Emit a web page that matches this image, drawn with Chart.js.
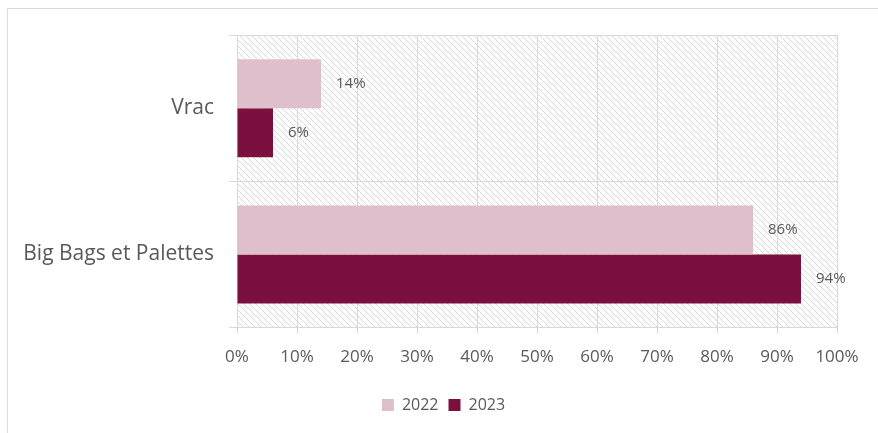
<!DOCTYPE html>
<html>
<head>
<meta charset="utf-8">
<script src="https://cdn.jsdelivr.net/npm/chart.js@4"></script>
<style>
  html, body { margin: 0; padding: 0; background: #fff; }
  #frame {
    position: absolute; left: 7px; top: 8px; width: 900px; height: 460px;
    border-left: 1px solid #d9d9d9; border-top: 1px solid #d9d9d9;
  }
  #chart-container { position: absolute; left: 0; top: 0; width: 878px; height: 433px; }
</style>
</head>
<body>
<div id="frame"></div>
<div id="chart-container"><canvas id="chart" width="878" height="433"></canvas></div>
<script>
const categories = ["Vrac", "Big Bags et Palettes"];
const values2022 = [14, 86];
const values2023 = [6, 94];
const seriesLabels = ["2022", "2023"];
const tickStep = 10;

const textColor = "#595959";
const gridColor = "#d9d9d9";
const fontFamily = "'Open Sans', 'Noto Sans', sans-serif";

// diagonal hatch behind the plot
function makeHatch() {
  const c = document.createElement("canvas");
  c.width = 6;
  c.height = 6;
  const g = c.getContext("2d");
  g.strokeStyle = "#d9d9d9";
  g.lineWidth = 1;
  g.beginPath();
  g.moveTo(-1, -1); g.lineTo(7, 7);
  g.moveTo(-4, 2); g.lineTo(4, 10);
  g.moveTo(2, -4); g.lineTo(10, 4);
  g.stroke();
  return g.createPattern(c, "repeat");
}

const hatchBackground = {
  id: "hatchBackground",
  beforeDraw(chart) {
    const { ctx, chartArea } = chart;
    ctx.save();
    ctx.fillStyle = makeHatch();
    ctx.fillRect(chartArea.left, chartArea.top, chartArea.right - chartArea.left, chartArea.bottom - chartArea.top);
    ctx.restore();
  },
};

// nudge the legend a little right and down
const legendShift = {
  id: "legendShift",
  afterLayout(chart) {
    const lg = chart.legend;
    lg.left += 20;
    lg.right += 20;
    lg.top += 7;
    lg.bottom += 7;
  },
};

// value labels to the right of each bar
const barLabels = {
  id: "barLabels",
  afterDatasetsDraw(chart) {
    const { ctx } = chart;
    ctx.save();
    ctx.font = "15px " + fontFamily;
    ctx.fillStyle = textColor;
    ctx.textBaseline = "middle";
    ctx.textAlign = "left";
    chart.data.datasets.forEach((ds, i) => {
      chart.getDatasetMeta(i).data.forEach((bar, j) => {
        ctx.fillText(ds.data[j] + "%", bar.x + 15, bar.y);
      });
    });
    ctx.restore();
  },
};

const ctx = document.getElementById("chart").getContext("2d");

new Chart(ctx, {
  type: "bar",
  data: {
    labels: categories,
    datasets: [
      {
        label: seriesLabels[0],
        data: values2022,
        backgroundColor: "#dfbfcc",
        categoryPercentage: 0.67,
        barPercentage: 1.0,
      },
      {
        label: seriesLabels[1],
        data: values2023,
        backgroundColor: "#7b0f3e",
        categoryPercentage: 0.67,
        barPercentage: 1.0,
      },
    ],
  },
  options: {
    indexAxis: "y",
    responsive: false,
    animation: false,
    devicePixelRatio: 1,
    layout: { padding: { left: 10, top: 35, right: 41, bottom: 17 } },
    scales: {
      x: {
        min: 0,
        max: 100,
        grid: { color: gridColor, tickLength: 6, tickColor: gridColor },
        border: { display: false },
        ticks: {
          stepSize: tickStep,
          maxRotation: 0,
          color: textColor,
          padding: 13,
          font: { family: fontFamily, size: 17 },
          callback: (v) => v + "%",
        },
      },
      y: {
        afterFit(scale) {
          scale.width = 227;
        },
        grid: { color: gridColor, tickLength: 8, tickColor: gridColor },
        border: { color: gridColor },
        ticks: {
          color: textColor,
          padding: 15,
          font: { family: fontFamily, size: 21 },
        },
      },
    },
    plugins: {
      legend: {
        position: "bottom",
        labels: {
          color: textColor,
          boxWidth: 12,
          boxHeight: 12,
          padding: 10,
          font: { family: fontFamily, size: 16 },
        },
      },
      tooltip: { enabled: false },
    },
  },
  plugins: [hatchBackground, legendShift, barLabels],
});
</script>
</body>
</html>
